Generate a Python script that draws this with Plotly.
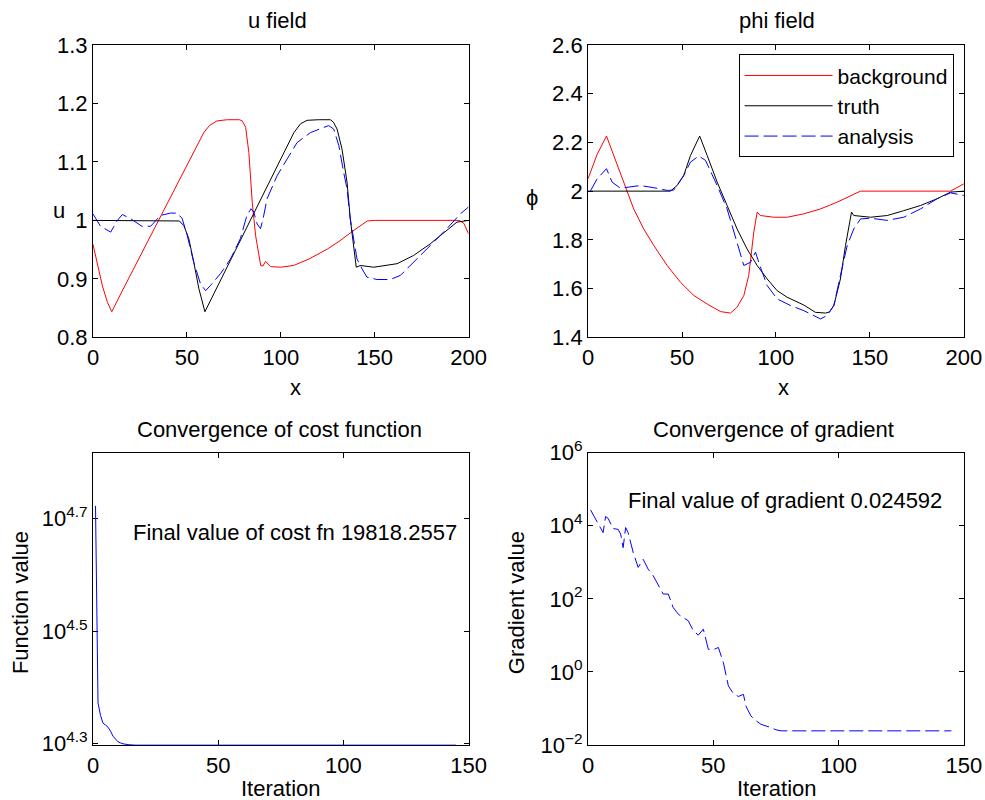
import plotly.graph_objects as go

# ---------------- data ----------------
# u field
u_bg_x = [0, 2.3, 5, 7.7, 10, 15, 20, 25, 30, 35, 40, 45, 52, 56, 59, 62, 66, 71.5, 78, 79.5, 81.3, 83,
          84.8, 86.6, 88, 89.3, 90.5, 91.9, 94.6, 100, 106.9, 115, 124.8, 131, 137.2, 142, 146, 150, 195, 197.5, 200]
u_bg = [0.959, 0.928, 0.888, 0.86, 0.844, 0.876, 0.907, 0.938, 0.970, 1.001, 1.033, 1.064, 1.108, 1.133, 1.150,
        1.162, 1.170, 1.172, 1.172, 1.170, 1.159, 1.116, 1.031, 0.974, 0.945, 0.923, 0.922, 0.930, 0.921, 0.920,
        0.923, 0.934, 0.951, 0.964, 0.979, 0.990, 0.999, 1.0, 1.0, 0.995, 0.977]

u_tr_x = [0, 44, 46, 48.4, 51, 53.7, 56.4, 59.6, 65, 71.5, 78, 85.6, 92, 99.8, 105, 107, 110.5, 114, 120, 126.4,
          128, 130, 132.6, 135.3, 137, 138.8, 140.2, 142.4, 149.5, 161.9, 170.7, 179.6, 188.5, 193.8, 200]
u_tr = [1.0, 1.0, 0.999, 0.991, 0.969, 0.928, 0.883, 0.844, 0.879, 0.921, 0.963, 1.013, 1.055, 1.105, 1.139,
        1.150, 1.165, 1.171, 1.172, 1.172, 1.168, 1.156, 1.122, 1.065, 1.003, 0.951, 0.920, 0.923, 0.920, 0.926,
        0.940, 0.960, 0.983, 0.997, 1.0]

u_an_x = [0, 4, 9.4, 13, 15.6, 20, 26, 30.7, 36, 41.3, 44.9, 47.5, 50.2, 53.7, 57.3, 60, 62.6, 67.9, 73.2, 78.5,
          82, 84.2, 85.6, 87.4, 89.2, 90.6, 92.7, 98, 103.4, 108.7, 115.8, 121, 125.5, 128.2, 130.9, 133.5, 135.3,
          137, 138.8, 140.6, 143.3, 145.9, 151.2, 158.3, 163.7, 170.7, 179.6, 188.5, 195.6, 200]
u_an = [1.011, 0.99, 0.98, 1.0, 1.01, 1.003, 0.99, 0.99, 1.0085, 1.0125, 1.0125, 1.003, 0.974, 0.928, 0.891, 0.88,
        0.889, 0.909, 0.934, 0.969, 1.009, 1.02, 1.014, 0.994, 0.986, 1.003, 1.037, 1.076, 1.105, 1.133, 1.15,
        1.157, 1.162, 1.156, 1.128, 1.082, 1.054, 1.003, 0.969, 0.934, 0.917, 0.903, 0.899, 0.899, 0.906, 0.928,
        0.957, 0.986, 1.011, 1.023]

# phi field
p_bg_x = [0, 4.8, 9.8, 12.5, 15.4, 19.9, 24.3, 29.6, 35, 42.1, 49.2, 56.3, 63.4, 70.5, 75.8, 79.3, 82.9, 85.5,
          88.2, 90, 91.7, 98.8, 106, 114.8, 123.7, 132.6, 141.4, 145, 150, 192.9, 200]
p_bg = [2.051, 2.15, 2.226, 2.17, 2.105, 2.01, 1.927, 1.845, 1.777, 1.695, 1.626, 1.572, 1.537, 1.506, 1.5, 1.524,
        1.572, 1.654, 1.832, 1.914, 1.9, 1.893, 1.893, 1.907, 1.927, 1.955, 1.989, 2.0, 2.0, 2.0, 2.03]

p_tr_x = [0, 43.8, 47.4, 50.9, 54.5, 59.4, 63.4, 68.7, 74, 79.3, 84.6, 90, 95.3, 100.6, 105.9, 114.8, 121, 126.4,
          128.5, 130.8, 134.3, 137, 140.2, 141.4, 150.3, 159.2, 168, 176.9, 185.8, 192.9, 200]
p_tr = [2.0, 2.0, 2.023, 2.064, 2.146, 2.226, 2.146, 2.037, 1.941, 1.845, 1.763, 1.695, 1.64, 1.592, 1.565, 1.533,
        1.503, 1.5, 1.505, 1.531, 1.64, 1.777, 1.914, 1.9, 1.893, 1.9, 1.92, 1.941, 1.969, 1.996, 2.0]

p_an_x = [1.2, 4.8, 9.8, 12.8, 17.2, 22.5, 27.9, 35, 42.1, 45.6, 50.9, 54.5, 58.9, 62.5, 68.7, 74, 79.3, 82.9,
          86.4, 89.1, 91.4, 95.3, 100.6, 107.7, 114.8, 120.1, 123.7, 127.2, 130.8, 134.3, 137.9, 141.4, 145, 150.3,
          159.2, 168, 176.9, 185.8, 192.9, 200]
p_an = [2.0, 2.05, 2.092, 2.037, 2.012, 2.016, 2.023, 2.014, 2.003, 2.004, 2.064, 2.119, 2.144, 2.126, 2.023,
        1.927, 1.79, 1.695, 1.708, 1.75, 1.695, 1.613, 1.558, 1.531, 1.51, 1.49, 1.476, 1.49, 1.531, 1.654, 1.777,
        1.845, 1.886, 1.889, 1.88, 1.893, 1.927, 1.969, 1.993, 1.982]

# convergence
cost_it = [1, 2, 3, 4, 5, 6, 7, 8, 9, 10, 11, 12, 14, 16, 17, 145]
cost_val = [52800, 23550, 22390, 21680, 21530, 21330, 20990, 20560, 20320, 20090, 20000, 19930, 19860, 19824,
            19818.2557, 19818.2557]

grad_it = [1, 4, 6, 7, 8, 10, 12, 13, 14, 15, 16, 18, 20, 22, 24, 26, 28, 30, 32, 34, 36, 38, 40, 42, 44, 46, 47,
           48, 50, 52, 54, 56, 58, 60, 62, 63, 65, 67, 69, 71, 73, 75, 77, 145]
grad_val = [26900, 10960, 6460, 17800, 15850, 8320, 7940, 5890, 2510, 8910, 6460, 1860, 724, 1200, 646, 427, 229,
            135, 135, 57.5, 38.0, 30.9, 25.1, 13.5, 10.2, 14.8, 7.94, 4.17, 4.07, 4.68, 1.82, 0.417, 0.257, 0.214,
            0.245, 0.117, 0.063, 0.0468, 0.0372, 0.0339, 0.0302, 0.0263, 0.024592, 0.024592]

x_ticks_top = [0, 50, 100, 150, 200]
u_ticks = [0.8, 0.9, 1.0, 1.1, 1.2, 1.3]
phi_ticks = [1.4, 1.6, 1.8, 2.0, 2.2, 2.4, 2.6]
it_ticks = [0, 50, 100, 150]
cost_tickvals = [10 ** 4.3, 10 ** 4.5, 10 ** 4.7]
cost_ticktext = ["10<sup>4.3</sup>", "10<sup>4.5</sup>", "10<sup>4.7</sup>"]
grad_tickvals = [1e-2, 1e0, 1e2, 1e4, 1e6]
grad_ticktext = ["10<sup>\u22122</sup>", "10<sup>0</sup>", "10<sup>2</sup>", "10<sup>4</sup>", "10<sup>6</sup>"]

# ---------------- figure ----------------
# mapping from target picture pixels to figure pixels (calibrated on the rendered output)
AX, SX = 5.5, 0.976
AY, SY = 13.7, 0.964
W, H = 1004, 816
FONT = "Liberation Sans, Arial, Helvetica, sans-serif"
FS = 22
RED, BLACK, BLUE = "#ff0000", "#000000", "#0000ff"
DASH = "14px,5px"

fig = go.Figure()
fig.add_trace(go.Scatter(x=u_bg_x, y=u_bg, mode="lines", line=dict(color=RED, width=1),
                         name="background", showlegend=False, xaxis="x", yaxis="y"))
fig.add_trace(go.Scatter(x=u_tr_x, y=u_tr, mode="lines", line=dict(color=BLACK, width=1),
                         name="truth", showlegend=False, xaxis="x", yaxis="y"))
fig.add_trace(go.Scatter(x=u_an_x, y=u_an, mode="lines", line=dict(color=BLUE, width=1, dash=DASH),
                         name="analysis", showlegend=False, xaxis="x", yaxis="y"))

fig.add_trace(go.Scatter(x=p_bg_x, y=p_bg, mode="lines", line=dict(color=RED, width=1),
                         name="background", xaxis="x2", yaxis="y2"))
fig.add_trace(go.Scatter(x=p_tr_x, y=p_tr, mode="lines", line=dict(color=BLACK, width=1),
                         name="truth", xaxis="x2", yaxis="y2"))
fig.add_trace(go.Scatter(x=p_an_x, y=p_an, mode="lines", line=dict(color=BLUE, width=1, dash=DASH),
                         name="analysis", xaxis="x2", yaxis="y2"))

fig.add_trace(go.Scatter(x=cost_it, y=cost_val, mode="lines", line=dict(color=BLUE, width=1),
                         showlegend=False, xaxis="x3", yaxis="y3"))
fig.add_trace(go.Scatter(x=grad_it, y=grad_val, mode="lines", line=dict(color=BLUE, width=1, dash=DASH),
                         showlegend=False, xaxis="x4", yaxis="y4"))

def px(x):
    return ((x - AX) / SX) / W

def py(y):
    return 1 - ((y - AY) / SY) / H

dom_xl = [px(92.5), px(468)]
dom_xr = [px(587.5), px(963.3)]
dom_yt = [py(335), py(42.5)]
dom_yb = [py(742.5), py(450)]

axis_common = dict(showline=True, linecolor="black", linewidth=1, mirror="ticks", ticks="inside",
                   ticklen=5, tickcolor="black", showgrid=False, zeroline=False,
                   tickfont=dict(family=FONT, size=FS, color="black"))

fig.update_layout(
    width=W, height=H, autosize=False,
    margin=dict(l=0, r=0, t=0, b=0),
    paper_bgcolor="white", plot_bgcolor="white",
    font=dict(family=FONT, size=FS, color="black"),
    xaxis=dict(domain=dom_xl, anchor="y", range=[0, 200], tickvals=x_ticks_top, **axis_common),
    yaxis=dict(domain=dom_yt, anchor="x", range=[0.8, 1.3], tickvals=u_ticks, **axis_common),
    xaxis2=dict(domain=dom_xr, anchor="y2", range=[0, 200], tickvals=x_ticks_top, **axis_common),
    yaxis2=dict(domain=dom_yt, anchor="x2", range=[1.4, 2.6], tickvals=phi_ticks, **axis_common),
    xaxis3=dict(domain=dom_xl, anchor="y3", range=[0, 150], tickvals=it_ticks, layer="below traces",
                **axis_common),
    yaxis3=dict(domain=dom_yb, anchor="x3", type="log", range=[4.2971, 4.8175], tickvals=cost_tickvals,
                ticktext=cost_ticktext, layer="below traces", **axis_common),
    xaxis4=dict(domain=dom_xr, anchor="y4", range=[0, 150], tickvals=it_ticks, **axis_common),
    yaxis4=dict(domain=dom_yb, anchor="x4", type="log", range=[-2, 6], tickvals=grad_tickvals,
                ticktext=grad_ticktext, **axis_common),
    legend=dict(x=px(953), y=py(52), xanchor="right", yanchor="top", bgcolor="white",
                bordercolor="black", borderwidth=1, font=dict(family=FONT, size=FS - 1, color="black"),
                itemwidth=88, tracegroupgap=0),
)

def ann(text, x, y, angle=0, xanchor="center"):
    fig.add_annotation(text=text, x=px(x), y=py(y), xref="paper", yref="paper", showarrow=False,
                       xanchor=xanchor, yanchor="middle", textangle=angle,
                       font=dict(family=FONT, size=FS, color="black"))

ann("u field", 277, 18)
ann("phi field", 776, 18)
ann("x", 295, 385)
ann("x", 783, 385)
ann("u", 58, 208)
ann("\u03d5", 531, 195)
ann("Convergence of cost function", 279, 427)
ann("Convergence of gradient", 773, 427)
ann("Iteration", 280, 786)
ann("Iteration", 776, 786)
ann("Function value", 20, 600, angle=-90)
ann("Gradient value", 516, 600, angle=-90)
ann("Final value of cost fn 19818.2557", 130, 530, xanchor="left")
ann("Final value of gradient 0.024592", 625, 498, xanchor="left")

fig.write_html("out.html")
